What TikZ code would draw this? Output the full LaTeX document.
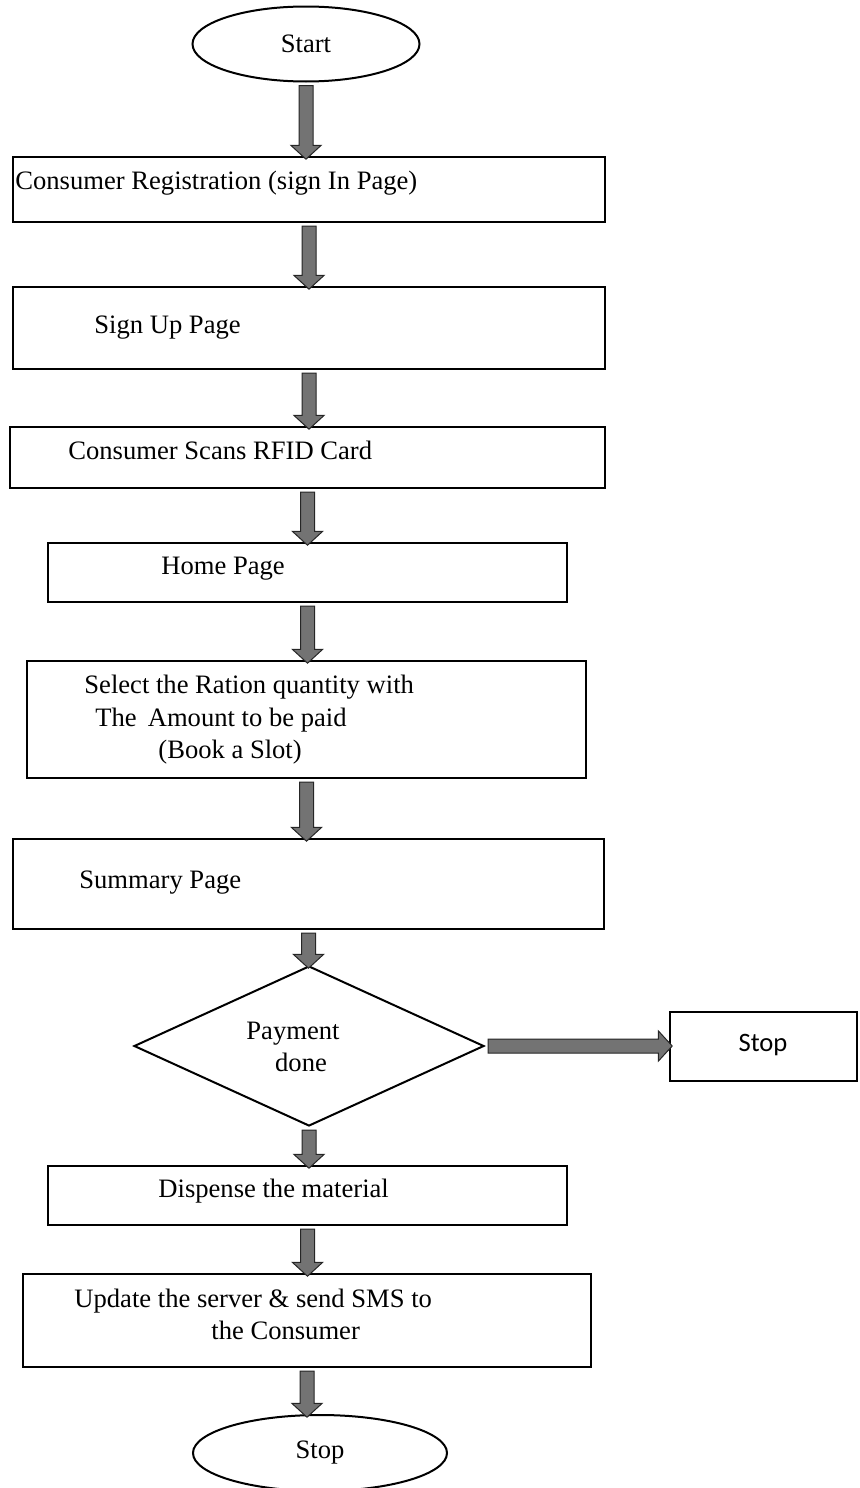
\documentclass[tikz,border=0pt]{standalone}
\usepackage{fontspec}
\setmainfont{Liberation Serif}
\newfontfamily\calibrifont{Carlito}
\usetikzlibrary{calc, fit, shapes.geometric, shapes.arrows}

\tikzset{
  box/.style={draw=black, line width=1pt, inner sep=0pt},
  term/.style={ellipse, draw=black, line width=1pt, inner sep=0pt, font=\fontsize{13.3}{16}\selectfont},
  decision/.style={diamond, draw=black, line width=1pt, inner sep=0pt},
  txt/.style={anchor=west, inner sep=0pt, text height=0.7em, text depth=0.25em, font=\fontsize{13.3}{16}\selectfont},
  fatarrow/.style={single arrow, draw=black!85, line width=0.5pt, inner xsep=0pt, inner ysep=3.25pt,
    text height=0pt, text depth=0pt, single arrow head extend=4pt, single arrow tip angle=95,
    top color=black!55, middle color=black!35, bottom color=black!55}
}

% fat grey arrow from #1 to #2, turned by #3
\newcommand{\fatlink}[3]{%
  \path let \p1=(#1), \p2=(#2), \n1={veclen(\x2-\x1,\y2-\y1)} in
    node [fatarrow, minimum height=\n1, rotate=#3] at ($(\p1)!0.5!(\p2)$) {};}

\begin{document}
\begin{tikzpicture}[x=0.5pt, y=-0.5pt]
          \useasboundingbox (0,0) rectangle (859,1488);

          \node [term, minimum width=113.5pt, minimum height=37.5pt] (start) at (306,44) {Start}; % Draws an ellipse

          \node [box, fit={(13,157) (605,222)}] (reg) {}; % Draws a rectangle
          \node [txt] at (15,185) {Consumer Registration (sign In Page)};

          \node [box, fit={(13,287) (605,369)}] (signup) {}; % Draws a rectangle
          \node [txt] at (94,329) {Sign Up Page};

          \node [box, fit={(10,427) (605,488)}] (scan) {}; % Draws a rectangle
          \node [txt] at (68,455) {Consumer Scans RFID Card};

          \node [box, fit={(48,543) (567,602)}] (home) {}; % Draws a rectangle
          \node [txt] at (161,570) {Home Page};

          \node [box, fit={(27,661) (586,778)}] (select) {}; % Draws a rectangle
          \node [txt] at (84,689) {Select the Ration quantity with};
          \node [txt] at (95,722) {The\, Amount to be paid};
          \node [txt] at (158,754) {(Book a Slot)};

          \node [box, fit={(13,839) (604,929)}] (summary) {}; % Draws a rectangle
          \node [txt] at (79,884) {Summary Page};

          \node [decision, minimum width=175pt, minimum height=80pt] (pay) at (309,1046) {}; % Draws a diamond
          \node [txt, anchor=center] at (293,1035) {Payment};
          \node [txt, anchor=center] at (301,1067) {done};

          \node [box, fit={(670,1012) (857,1081)}] (halt) {}; % Draws a rectangle
          \node [inner sep=0pt, font=\calibrifont\fontsize{13.3}{16}\selectfont] at (763,1045) {Stop};

          \node [box, fit={(48,1166) (567,1225)}] (dispense) {}; % Draws a rectangle
          \node [txt] at (158,1193) {Dispense the material};

          \node [box, fit={(23,1274) (591,1367)}] (update) {}; % Draws a rectangle
          \node [txt] at (74,1303) {Update the server \& send SMS to};
          \node [txt] at (211,1335) {the Consumer};

          \node [term, minimum width=127pt, minimum height=38pt] (stop) at (320,1453) {Stop}; % Draws an ellipse

          \fatlink{start.south}{start.south |- reg.north}{-90}
          \fatlink{reg.south}{reg.south |- signup.north}{-90}
          \fatlink{signup.south}{signup.south |- scan.north}{-90}
          \fatlink{scan.south}{scan.south |- home.north}{-90}
          \fatlink{home.south}{home.south |- select.north}{-90}
          \fatlink{select.south}{select.south |- summary.north}{-90}
          \fatlink{summary.south}{summary.south |- pay.north}{-90}
          \fatlink{pay.east}{pay.east -| halt.west}{0}
          \fatlink{pay.south}{pay.south |- dispense.north}{-90}
          \fatlink{dispense.south}{dispense.south |- update.north}{-90}
          \fatlink{update.south}{update.south |- stop.north}{-90}
\end{tikzpicture}
\end{document}
